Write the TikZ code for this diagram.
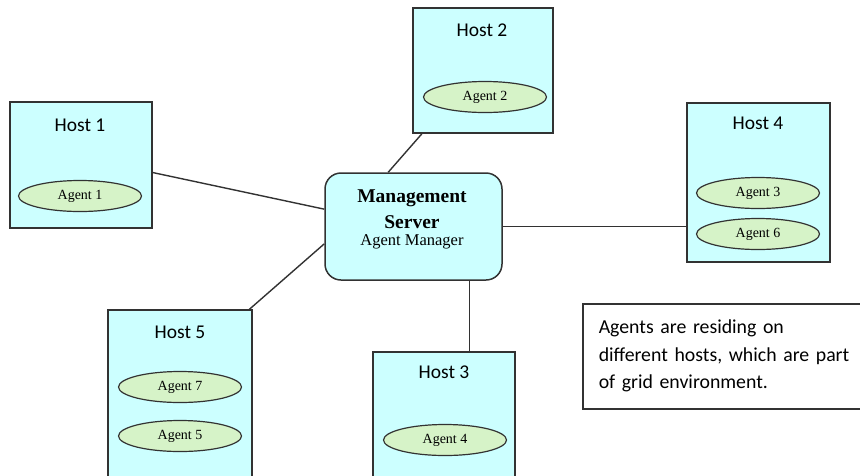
\documentclass[tikz,border=0pt]{standalone}
\usepackage{fontspec}
\setmainfont{Liberation Serif}
\newfontfamily\hostfont{Carlito}
\usetikzlibrary{shapes.geometric}
\definecolor{hostcyan}{RGB}{204,255,255}
\definecolor{agentgreen}{RGB}{214,243,200}
\definecolor{edgegray}{RGB}{50,50,50}
\tikzset{
    hostbox/.style={draw=edgegray, fill=hostcyan, line width=1.5pt, minimum width=142pt, inner sep=0pt},
    hosttitle/.style={font=\hostfont\fontsize{19.5}{21}\selectfont, inner sep=0pt},
    agent/.style={ellipse, draw=edgegray, fill=agentgreen, line width=1.2pt, minimum width=123pt, minimum height=31pt, inner sep=0pt, font=\fontsize{14}{15}\selectfont},
    link/.style={draw=edgegray, line width=1.4pt}
}

\begin{document}
\begin{tikzpicture}[x=1pt,y=-1pt]
    \useasboundingbox (0,0) rectangle (860,475);
    % Management server
    \node[draw=edgegray, fill=hostcyan, line width=1.5pt, rounded corners=16pt, minimum width=177pt, minimum height=107pt] (srv) at (413.5,226.5) {};
    \node[font=\bfseries\fontsize{19.5}{21}\selectfont, inner sep=0pt] (srvname) at (412,198) {Management};
    \node[font=\bfseries\fontsize{19.5}{21}\selectfont, inner sep=0pt] (srvname2) at (412,222) {Server};
    \node[font=\fontsize{16.5}{18}\selectfont, inner sep=0pt] (srvmgr) at (412,242) {Agent Manager};

    % Hosts
    \node[hostbox, minimum height=126pt] (h1) at (81,165) {};
    \node[hosttitle] (t1) at (80,125) {Host 1};
    \node[agent] (a1) at (80,196) {Agent 1};

    \node[hostbox, minimum width=140pt, minimum height=125pt] (h2) at (483,70.5) {};
    \node[hosttitle] (t2) at (482,30) {Host 2};
    \node[agent] (a2) at (485,97) {Agent 2};

    \node[hostbox, minimum width=143pt, minimum height=159pt] (h4) at (758.5,182.5) {};
    \node[hosttitle] (t4) at (758,123) {Host 4};
    \node[agent] (a3) at (758,193) {Agent 3};
    \node[agent] (a6) at (758,234) {Agent 6};

    \node[hostbox, minimum width=144pt, minimum height=170pt] (h5) at (180,395) {};
    \node[hosttitle] (t5) at (180,332) {Host 5};
    \node[agent] (a7) at (180,387) {Agent 7};
    \node[agent] (a5) at (180,436) {Agent 5};

    \node[hostbox, minimum height=130pt] (h3) at (444,417) {};
    \node[hosttitle] (t3) at (444,372) {Host 3};
    \node[agent] (a4) at (445,440) {Agent 4};

    % Links
    \path[link] (h1.-6) -- (srv.169);
    \path[link] (h2.-134) -- (srv.115);
    \path[link] (srv.east) -- (srv.east -| h4.west);
    \path[link] (srv.-44.5) -- (srv.-44.5 |- h3.north);
    \path[link] (h5.51) -- (srv.-169);

    % Note
    \node[draw=edgegray, line width=1.5pt, fill=white, anchor=north west, text width=264pt, minimum height=105pt, align=left, inner xsep=16pt, inner ysep=0pt, font=\hostfont\fontsize{19.8}{27.5}\selectfont] (note) at (582,303) {Agents are residing on\\different hosts, which are part\\of grid environment.};
\end{tikzpicture}
\end{document}
